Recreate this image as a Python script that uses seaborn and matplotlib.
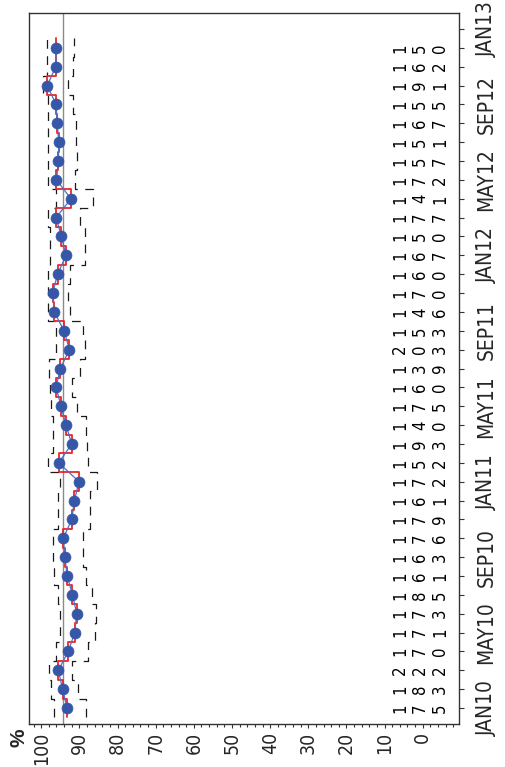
import numpy as np
import pandas as pd
import matplotlib
matplotlib.use("Agg")
import matplotlib.pyplot as plt
import matplotlib.transforms as mtransforms
from matplotlib import font_manager
from matplotlib.ticker import MultipleLocator, FixedLocator
import seaborn as sns

# ---- data ----
months = list(range(36))  # JAN10 .. DEC12
pct = [93.2, 94.4, 95.5, 92.9, 91.2, 90.7, 91.8, 93.2, 93.8, 94.2, 92.0, 91.3,
       90.1, 95.4, 92.0, 93.5, 94.8, 96.1, 95.0, 92.6, 94.0, 96.6, 97.0, 95.7,
       93.5, 94.7, 96.1, 92.2, 96.0, 95.5, 95.4, 95.8, 96.1, 98.4, 96.2, 96.0]
upper = [96.6, 97.5, 97.9, 96.2, 95.1, 95.1, 95.5, 96.6, 96.8, 96.8, 95.5, 95.5,
         95.0, 98.2, 96.8, 96.8, 97.4, 97.7, 98.0, 96.0, 96.0, 98.3, 98.3, 98.1,
         97.7, 97.7, 98.3, 96.0, 98.1, 98.1, 98.1, 98.1, 98.1, 99.6, 98.6, 98.6]
lower = [88.3, 90.3, 91.8, 87.8, 85.9, 85.7, 86.8, 88.3, 89.0, 89.0, 87.2, 87.2,
         85.5, 87.7, 88.1, 88.3, 90.7, 92.0, 89.9, 88.5, 89.0, 92.5, 92.9, 92.5,
         88.5, 88.5, 89.9, 86.4, 91.2, 90.5, 91.0, 91.0, 91.6, 93.0, 91.6, 91.3]
n_obs = [175, 183, 222, 170, 171, 173, 185, 161, 163, 176, 179, 161,
         172, 152, 193, 140, 175, 160, 139, 203, 153, 146, 170, 160,
         167, 150, 177, 141, 172, 157, 151, 167, 155, 191, 162, 150]
ref_pct = 94.2
date_ticks = [0, 4, 8, 12, 16, 20, 24, 28, 32, 36]
date_labels = ["JAN10", "MAY10", "SEP10", "JAN11", "MAY11", "SEP11",
               "JAN12", "MAY12", "SEP12", "JAN13"]
pct_ticks = [100, 90, 80, 70, 60, 50, 40, 30, 20, 10, 0]

df = pd.DataFrame({"month": months, "pct": pct, "upper": upper, "lower": lower})

sns.set_style("ticks")
plt.rcParams["font.family"] = ["Liberation Sans", "DejaVu Sans"]

# look for a narrow / condensed sans face, like the reference's Helvetica Narrow
narrow = None
for f in font_manager.fontManager.ttflist:
    nm = f.name.lower()
    if ("narrow" in nm or "condensed" in nm or str(f.stretch).endswith("condensed")) \
            and f.style == "normal" and f.weight in (400, "normal", "regular"):
        narrow = f.fname
        break
if narrow:
    fp = lambda size: font_manager.FontProperties(fname=narrow, size=size)
    big, mid, small = 15, 14, 12
else:
    fp = lambda size: font_manager.FontProperties(family=["Liberation Sans", "DejaVu Sans"], size=size)
    big, mid, small = 13.5, 12.5, 11

fig = plt.figure(figsize=(5.05, 7.67), dpi=100)
ax = fig.add_axes([29 / 505, 1 - 724 / 767, 430 / 505, 711 / 767])


def mid_steps(vals):
    m = np.asarray(months, dtype=float)
    ys = np.column_stack([m - 0.5, m + 0.5]).ravel()
    xs = np.repeat(np.asarray(vals, dtype=float), 2)
    return xs, ys

# reference line
ax.axvline(ref_pct, color="#8a8a8a", lw=1.0, zorder=1)

# control limits (dashed steps)
for arr in (upper, lower):
    xs, ys = mid_steps(arr)
    ax.plot(xs, ys, color="#1a1a1a", lw=0.9, ls=(0, (7, 6)), zorder=2)

# red step line
xs, ys = mid_steps(pct)
ax.plot(xs, ys, color="#e8262a", lw=1.3, zorder=3)

# blue connecting line and points
sns.lineplot(data=df, x="pct", y="month", orient="y", sort=True, ax=ax,
             color="#4f6fc4", lw=0.9, zorder=4)
sns.scatterplot(data=df, x="pct", y="month", ax=ax, color="#3656a8", s=62,
                edgecolor="#3656a8", linewidth=0.5, zorder=5)

# sample sizes as vertical digit stacks
trans = mtransforms.blended_transform_factory(ax.transAxes, ax.transData)
digit_x = [0.863, 0.909, 0.956]
for m, n in zip(months, n_obs):
    for k, ch in enumerate(str(n)):
        ax.text(digit_x[k], m, ch, transform=trans, rotation=90, ha="center",
                va="center", fontproperties=fp(small), color="black")

ax.set_xlim(103.2, -9.5)
ax.set_ylim(-0.85, 36.85)
ax.set_xlabel("")
ax.set_ylabel("")

ax.xaxis.set_major_locator(FixedLocator(pct_ticks))
ax.xaxis.set_minor_locator(MultipleLocator(2))
ax.set_xticklabels([str(t) for t in pct_ticks], rotation=90, fontproperties=fp(mid))
ax.tick_params(axis="x", which="major", length=3, width=0.8, pad=2.5, color="#333")
ax.tick_params(axis="x", which="minor", length=2.2, width=0.8, color="#333")

ax.yaxis.tick_right()
ax.yaxis.set_major_locator(FixedLocator(date_ticks))
ax.yaxis.set_minor_locator(MultipleLocator(1))
ax.set_yticklabels(date_labels, rotation=90, va="center", fontproperties=fp(big))
ax.tick_params(axis="y", which="both", length=3.6, width=0.8, pad=9,
               color="#333", left=False, right=True)

for sp in ax.spines.values():
    sp.set_visible(True)
    sp.set_color("#333333")
    sp.set_linewidth(1.0)

fig.text(19 / 505, 1 - 738 / 767, "%", rotation=90, ha="center", va="center",
         fontsize=15, fontweight="bold")

fig.savefig("out.png", dpi=100)
